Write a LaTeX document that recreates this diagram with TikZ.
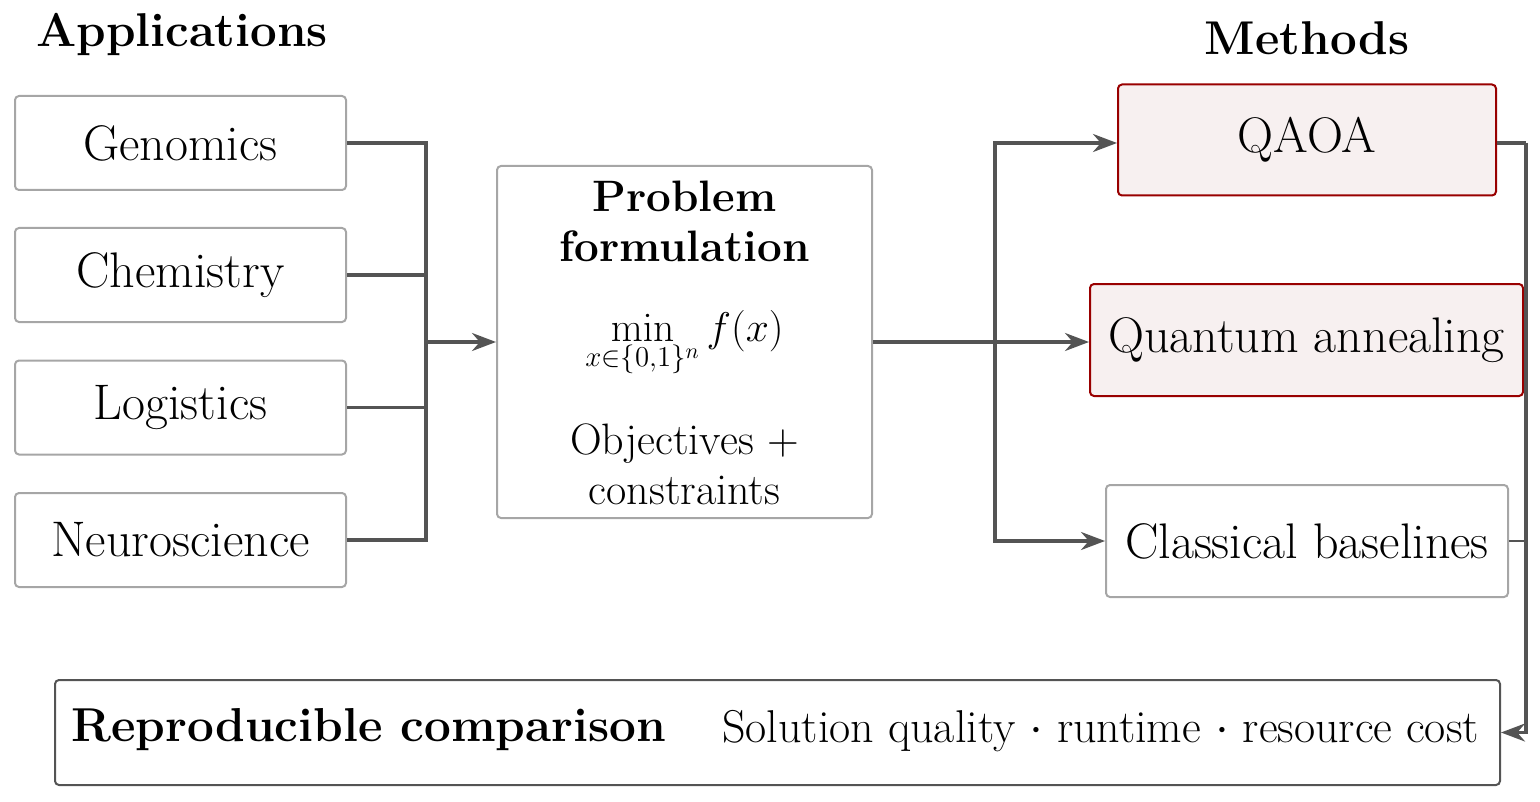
\documentclass[tikz,border=0pt]{standalone}
\usetikzlibrary{arrows.meta}
\begin{document}
\begin{tikzpicture}[x=0.5pt,y=-0.5pt,
  every node/.style={font=\fontsize{25}{28}\selectfont},
  box/.style={draw=black!35,line width=1pt,rounded corners=2pt,align=center,inner sep=0pt},
  qbox/.style={box,draw=red!60!black,fill=red!3!white!97!black},
  conn/.style={draw=black!67,line width=1.6pt},
  arr/.style={conn,-{Stealth[length=12pt,width=9pt]}}]
\useasboundingbox (0,0) rectangle (1540,802);
\node[font=\fontsize{23.7}{26}\selectfont\bfseries] (apps) at (182,35) {Applications};
\node[font=\fontsize{23.7}{26}\selectfont\bfseries] (meth) at (1307,38) {Methods};
\node[box,minimum width=331pt/2,minimum height=94pt/2] (gen) at (180.5,143) {Genomics};
\node[box,minimum width=331pt/2,minimum height=94pt/2] (che) at (180.5,275) {Chemistry};
\node[box,minimum width=331pt/2,minimum height=94pt/2] (log) at (180.5,407.5) {Logistics};
\node[box,minimum width=331pt/2,minimum height=94pt/2] (neu) at (180.5,540) {Neuroscience};
\node[box,minimum width=375pt/2,minimum height=352pt/2] (prob) at (684.5,342) {};
\node[font=\fontsize{22}{25}\selectfont\bfseries,align=center] (pt) at (684.5,221) {Problem\\formulation};
\node[font=\fontsize{22}{25}\selectfont] (pm) at (684.5,343) {$\displaystyle\min_{x\in\{0,1\}^n} f(x)$};
\node[align=center,font=\fontsize{22}{25}\selectfont] (po) at (684.5,464) {Objectives +\\constraints};
\node[qbox,minimum width=378pt/2,minimum height=111pt/2] (qaoa) at (1307,140) {QAOA};
\node[qbox,minimum width=433pt/2,minimum height=112pt/2] (qa) at (1306.5,340) {Quantum annealing};
\node[box,minimum width=402pt/2,minimum height=112pt/2] (cb) at (1307,541) {Classical baselines};
\node[box,draw=black!67,minimum width=1445pt/2,minimum height=105pt/2] (comp) at (777.5,732.5) {};
\node[anchor=west,font=\fontsize{23.8}{26}\selectfont\bfseries] (ct) at (64,730) {Reproducible comparison};
\node[anchor=east,font=\fontsize{23}{26}\selectfont] (cm) at (1486,731) {Solution quality $\cdot$ runtime $\cdot$ resource cost};
\coordinate (jl) at (426,342);
\coordinate (jr) at (995,342);
\coordinate (rr) at (1526,143);
\draw[conn] (gen.east) -| (jl);
\draw[conn] (che.east) -| (jl);
\draw[conn] (log.east) -| (jl);
\draw[conn] (neu.east) -| (jl);
\draw[arr] (jl) -- (prob.west);
\draw[conn] (prob.east) -- (jr);
\draw[arr] (jr) |- (qaoa.west |- rr);
\draw[arr] (jr) -- (qa.west |- jr);
\draw[arr] (jr) |- (cb.west);
\draw[conn] (qaoa.east |- rr) -- (rr);
\draw[arr] (rr) |- (comp.east);
\draw[conn,line width=1.1pt] (cb.east) -- (cb.east -| rr);
\end{tikzpicture}
\end{document}
